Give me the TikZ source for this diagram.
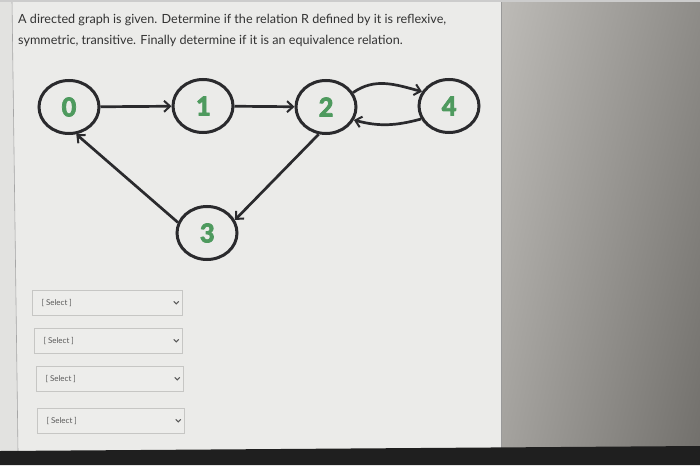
\documentclass[tikz,border=0pt]{standalone}
\usepackage{fontspec}
\setmainfont{Lato}
\newfontfamily\numfont{Carlito}[FakeBold=2.5]
\usetikzlibrary{shapes.geometric,arrows.meta,shadings}
\definecolor{panel}{HTML}{EBEBE9}
\definecolor{ink}{HTML}{2A2A2D}
\definecolor{numgreen}{HTML}{4E9A5E}
\definecolor{selfill}{HTML}{EDEDEB}
\definecolor{selline}{HTML}{C6C6C4}
\definecolor{wallA}{HTML}{BDBBB7}
\definecolor{wallB}{HTML}{8E8C88}
\definecolor{wallC}{HTML}{A4A29E}
\definecolor{wallD}{HTML}{72706C}
\tikzset{
  vert/.style={ellipse,draw=ink,line width=3pt,fill=panel,minimum width=60pt,minimum height=53pt,inner sep=0pt,
    font=\numfont\bfseries\fontsize{29}{29}\selectfont,text=numgreen},
  edge/.style={draw=ink,line width=2.7pt,-{Straight Barb[length=6pt,width=11pt,line width=2pt]}},
  selbox/.style={draw=selline,fill=selfill,line width=0.8pt,minimum height=25pt,inner sep=0pt},
  seltext/.style={font=\fontsize{8}{9}\selectfont,text=black!65,anchor=west},
  chev/.style={draw=black!65,line width=1.1pt},
  qtext/.style={font=\fontsize{12.6}{14}\selectfont,text=black!80,anchor=base west,inner sep=0pt}
}
\begin{document}
\begin{tikzpicture}[x=1pt,y=-1pt]
\useasboundingbox (0,0) rectangle (700,465);
% backgrounds
\fill[black!16] (0,0) rectangle (700,465);
\fill[panel] (12,0) -- (501,0) -- (501,452) -- (18,452) -- cycle;
\fill[panel!96!black] (0,0) -- (12,0) -- (18,452) -- (0,452) -- cycle;
\draw[black!35,line width=0.6pt] (12,0) -- (18,452);
\shade[upper left=wallA, upper right=wallB, lower left=wallC, lower right=wallD] (501,0) rectangle (700,452);
\draw[black!40,line width=0.6pt] (501,0) -- (501,452);
\fill[black!88] (0,451) -- (700,446) -- (700,465) -- (0,465) -- cycle;
\fill[black!20] (0,0) rectangle (700,2);
% question text
\node[qtext] (q1) at (18,24) {A directed graph is given. Determine if the relation R defined by it is reflexive,};
\node[qtext] (q2) at (18,45) {symmetric, transitive. Finally determine if it is an equivalence relation.};
% graph
\node[vert] (n0) at (69,107) {0};
\node[vert] (n1) at (203,106) {1};
\node[vert] (n2) at (326,107) {2};
\node[vert] (n4) at (449,106) {4};
\node[vert] (n3) at (207,233) {3};
\draw[edge] (n0) -- (n1);
\draw[edge] (n1) -- (n2);
\draw[edge] (n2.28) to[out=35,in=165] (n4.152);
\draw[edge] (n4.205) to[out=195,in=-15] (n2.-25);
\draw[edge] (n2.-105) -- (n3.25);
\draw[edge] (n3.160) -- (n0.-75);
% select boxes
\foreach \i/\xl/\yt/\xr in {1/32/290/182, 2/34/328/182, 3/36/366/183, 4/37/408/184}{
  \node[selbox,minimum width={(\xr-\xl)*1pt},anchor=north west] (s\i) at (\xl,\yt) {};
  \node[seltext] (st\i) at ([xshift=6pt]s\i.west) {[ Select ]};
  \draw[chev] ([xshift=-9pt,yshift=1.5pt]s\i.east) -- ([xshift=-6.5pt,yshift=-1pt]s\i.east) -- ([xshift=-4pt,yshift=1.5pt]s\i.east);
}
\end{tikzpicture}
\end{document}
